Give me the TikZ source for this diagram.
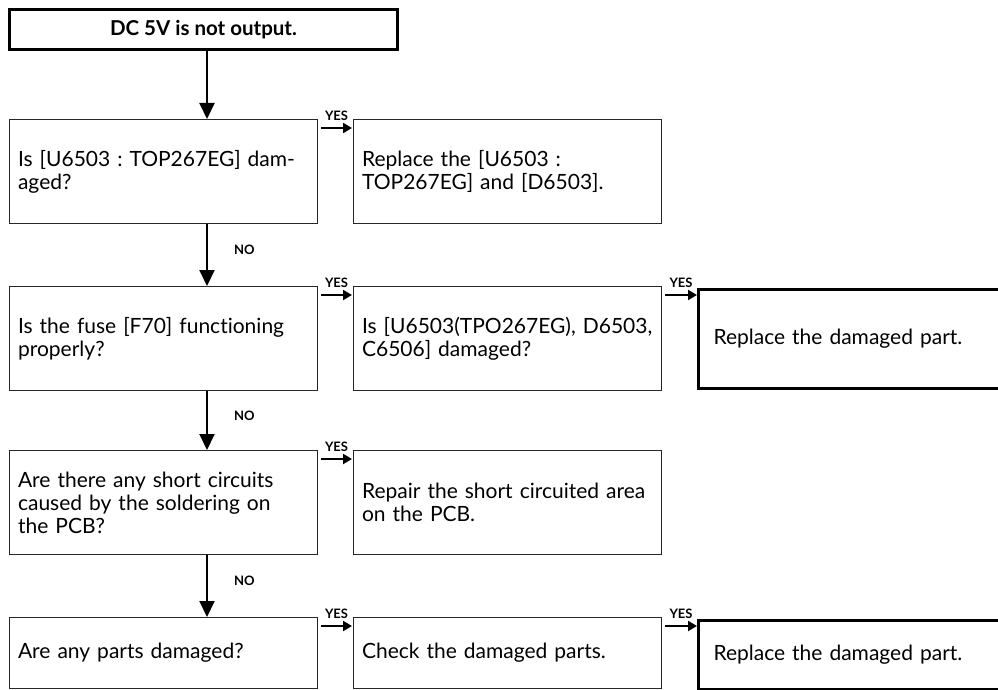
\documentclass[tikz,border=0pt]{standalone}
\usepackage{fontspec}
\setmainfont{Lato}[Ligatures=NoCommon]
\usetikzlibrary{arrows.meta,positioning}
\frenchspacing
\tikzset{
  box/.style={draw=black!85, line width=1.1pt, rectangle, anchor=north west, minimum width=308pt, minimum height=104pt, text width=291pt, inner xsep=8pt, align=left, font=\fontsize{21}{23}\selectfont},
  shortbox/.style={box, minimum height=71pt},
  thickbox/.style={draw=black, line width=3pt, rectangle, anchor=north west, minimum width=330pt, text width=300pt, inner xsep=8pt, align=left, font=\fontsize{21}{23}\selectfont},
  titlebox/.style={draw=black, line width=3pt, rectangle, minimum width=388pt, minimum height=40pt, font=\bfseries\fontsize{20.5}{22}\selectfont},
  downarrow/.style={line width=2pt, -{Triangle[width=15pt,length=16pt]}},
  yesarrow/.style={line width=2pt, -{Triangle[width=10pt,length=9pt]}},
  lbl/.style={font=\bfseries\fontsize{13}{14}\selectfont, inner sep=0pt}
}
\begin{document}
\begin{tikzpicture}[x=1pt,y=-1pt]
\useasboundingbox (0,0) rectangle (998,690);
\clip (0,0) rectangle (998,690);
\coordinate (col) at (207,0);
\node[titlebox] (top) at (203.5,29.5) {DC 5V is not output.};
% row 1
\node[box] (q1) at (9,119) {Is [U6503 : TOP267EG] dam-\\aged?};
\node[box] (a1) at (353,119) {Replace the [U6503 :\\TOP267EG] and [D6503].};
% row 2
\node[box] (q2) at (9,286) {Is the fuse [F70] functioning\\properly?};
\node[box] (a2) at (353,286) {Is [U6503(TPO267EG), D6503,\\C6506] damaged?};
\node[thickbox, minimum height=99pt] (r2) at (697,287.5) {Replace the damaged part.};
% row 3
\node[box] (q3) at (9,450) {Are there any short circuits\\caused by the soldering on\\the PCB?};
\node[box] (a3) at (353,450) {Repair the short circuited area\\on the PCB.};
% row 4
\node[shortbox] (q4) at (9,617) {Are any parts damaged?};
\node[shortbox] (a4) at (353,617) {Check the damaged parts.};
\node[thickbox, minimum height=69pt] (r4) at (697,618.5) {Replace the damaged part.};
% vertical arrows
\draw[downarrow] (top.south -| col) -- (q1.north -| col);
\draw[downarrow] (q1.south -| col) -- (q2.north -| col) node[lbl, pos=0.42, right=26pt] {NO};
\draw[downarrow] (q2.south -| col) -- (q3.north -| col) node[lbl, pos=0.42, right=26pt] {NO};
\draw[downarrow] (q3.south -| col) -- (q4.north -| col) node[lbl, pos=0.42, right=26pt] {NO};
% yes arrows
\draw[yesarrow] ([xshift=3pt,yshift=-9pt]q1.north east) -- ([xshift=-1pt,yshift=-9pt]a1.north west) node[lbl, midway, above=6pt] {YES};
\draw[yesarrow] ([xshift=3pt,yshift=-9pt]q2.north east) -- ([xshift=-1pt,yshift=-9pt]a2.north west) node[lbl, midway, above=6pt] {YES};
\draw[yesarrow] ([xshift=3pt,yshift=-9pt]a2.north east) -- ([yshift=-9pt]a2.north west -| r2.west) node[lbl, midway, above=6pt] {YES};
\draw[yesarrow] ([xshift=3pt,yshift=-9pt]q3.north east) -- ([xshift=-1pt,yshift=-9pt]a3.north west) node[lbl, midway, above=6pt] {YES};
\draw[yesarrow] ([xshift=3pt,yshift=-9pt]q4.north east) -- ([xshift=-1pt,yshift=-9pt]a4.north west) node[lbl, midway, above=6pt] {YES};
\draw[yesarrow] ([xshift=3pt,yshift=-9pt]a4.north east) -- ([yshift=-9pt]a4.north west -| r4.west) node[lbl, midway, above=6pt] {YES};
\end{tikzpicture}
\end{document}
